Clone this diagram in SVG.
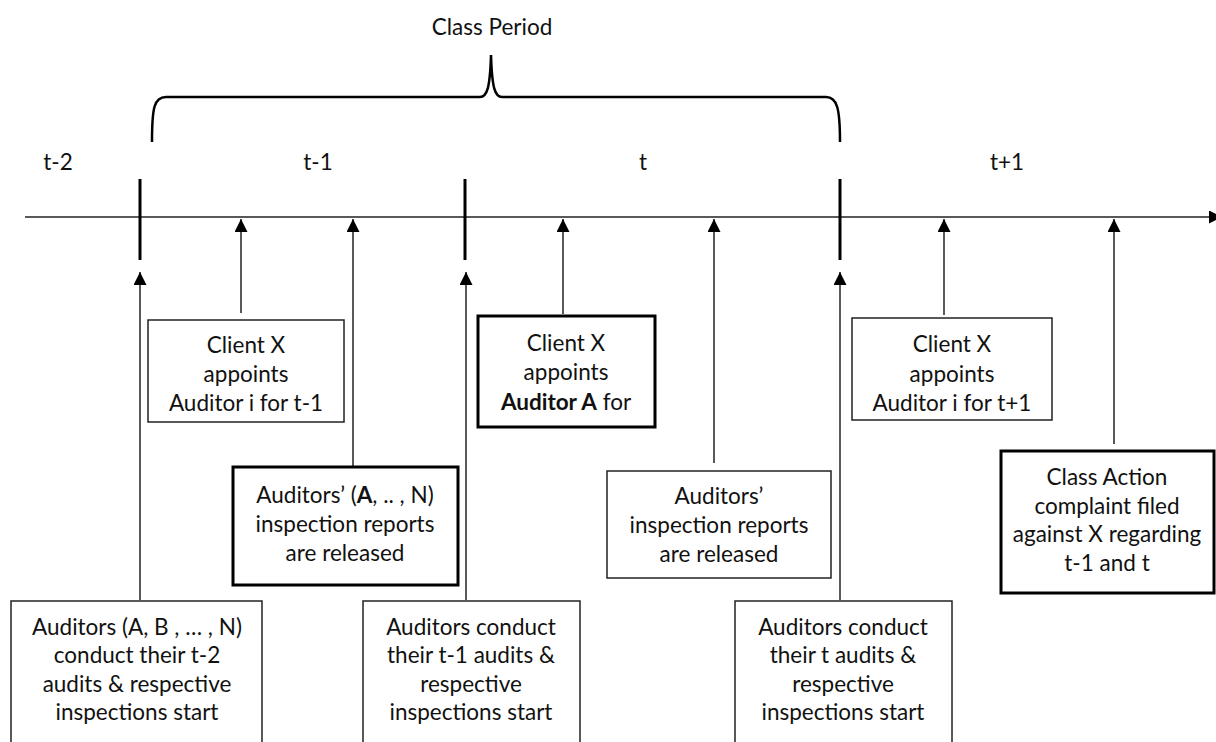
<svg xmlns="http://www.w3.org/2000/svg" width="1216" height="742" viewBox="0 0 1216 742">
<defs>
<marker id="ah" markerUnits="userSpaceOnUse" markerWidth="14" markerHeight="14" refX="13" refY="6.5" orient="auto">
<path d="M0,0 L13,6.5 L0,13 Z" fill="#000"/>
</marker>
</defs>
<style>
text{font-family:Lato,"Liberation Sans",sans-serif;font-size:22.5px;fill:#111;text-anchor:middle}
.box{fill:#fff;stroke:#222;stroke-width:1.5}
.thick{fill:#fff;stroke:#000;stroke-width:3}
.conn{stroke:#222;stroke-width:1.5;fill:none}
.tick{stroke:#000;stroke-width:3}
.b{font-weight:bold}
</style>
<rect width="1216" height="742" fill="#fff"/>
<g id="header">
<text x="492" y="35">Class Period</text>
<path d="M152,142 C152,108 154,97 166,97 L480,97 C487,97 490,88 491,55 C492,88 495,97 502,97 L826,97 C837,97 840,108 840,142" fill="none" stroke="#000" stroke-width="2.5"/>
<text x="58" y="170">t-2</text>
<text x="318" y="170">t-1</text>
<text x="643" y="170">t</text>
<text x="1007" y="170">t+1</text>
</g>
<g id="connectors">
<line class="conn" x1="25" y1="217" x2="1222" y2="217" marker-end="url(#ah)"/>
<line class="tick" x1="140" y1="179" x2="140" y2="260"/>
<line class="tick" x1="465" y1="179" x2="465" y2="260"/>
<line class="tick" x1="840" y1="179" x2="840" y2="260"/>
<line class="conn" x1="140" y1="600" x2="140" y2="272" marker-end="url(#ah)"/>
<line class="conn" x1="466" y1="600" x2="466" y2="272" marker-end="url(#ah)"/>
<line class="conn" x1="840" y1="600" x2="840" y2="272" marker-end="url(#ah)"/>
<line class="conn" x1="241" y1="313" x2="241" y2="219" marker-end="url(#ah)"/>
<line class="conn" x1="353" y1="466" x2="353" y2="219" marker-end="url(#ah)"/>
<line class="conn" x1="563" y1="314" x2="563" y2="219" marker-end="url(#ah)"/>
<line class="conn" x1="714" y1="463" x2="714" y2="219" marker-end="url(#ah)"/>
<line class="conn" x1="944" y1="315" x2="944" y2="219" marker-end="url(#ah)"/>
<line class="conn" x1="1114" y1="444" x2="1114" y2="219" marker-end="url(#ah)"/>
</g>
<g id="n-client-t1">
<rect class="box" x="148" y="320" width="196" height="102"/>
<text x="246" y="353">Client X</text>
<text x="246" y="382">appoints</text>
<text x="246" y="411">Auditor i for t-1</text>
</g>
<g id="n-reports-t1">
<rect class="thick" x="233" y="467" width="225" height="118"/>
<text x="345" y="503">Auditors’ (<tspan class="b">A</tspan>, .. , N)</text>
<text x="345" y="532">inspection reports</text>
<text x="345" y="561">are released</text>
</g>
<g id="n-audits-t2">
<rect class="box" x="11" y="601" width="251" height="160"/>
<text x="137" y="635">Auditors (A, B , … , N)</text>
<text x="137" y="663">conduct their t-2</text>
<text x="137" y="692">audits &amp; respective</text>
<text x="137" y="720">inspections start</text>
</g>
<g id="n-client-t">
<rect class="thick" x="478" y="316" width="177" height="111"/>
<text x="566" y="351">Client X</text>
<text x="566" y="380">appoints</text>
<text x="566" y="410"><tspan class="b">Auditor A</tspan> for</text>
</g>
<g id="n-audits-t1">
<rect class="box" x="363" y="601" width="217" height="160"/>
<text x="471" y="635">Auditors conduct</text>
<text x="471" y="663">their t-1 audits &amp;</text>
<text x="471" y="692">respective</text>
<text x="471" y="720">inspections start</text>
</g>
<g id="n-reports-t">
<rect class="box" x="607" y="471" width="224" height="107"/>
<text x="719" y="504">Auditors’</text>
<text x="719" y="533">inspection reports</text>
<text x="719" y="562">are released</text>
</g>
<g id="n-audits-t">
<rect class="box" x="735" y="601" width="217" height="160"/>
<text x="843" y="635">Auditors conduct</text>
<text x="843" y="663">their t audits &amp;</text>
<text x="843" y="692">respective</text>
<text x="843" y="720">inspections start</text>
</g>
<g id="n-client-t2">
<rect class="box" x="852" y="318" width="200" height="102"/>
<text x="952" y="352">Client X</text>
<text x="952" y="382">appoints</text>
<text x="952" y="411">Auditor i for t+1</text>
</g>
<g id="n-class-action">
<rect class="thick" x="1001" y="451" width="213" height="142"/>
<text x="1107" y="485">Class Action</text>
<text x="1107" y="514">complaint filed</text>
<text x="1107" y="542">against X regarding</text>
<text x="1107" y="571">t-1 and t</text>
</g>
</svg>
